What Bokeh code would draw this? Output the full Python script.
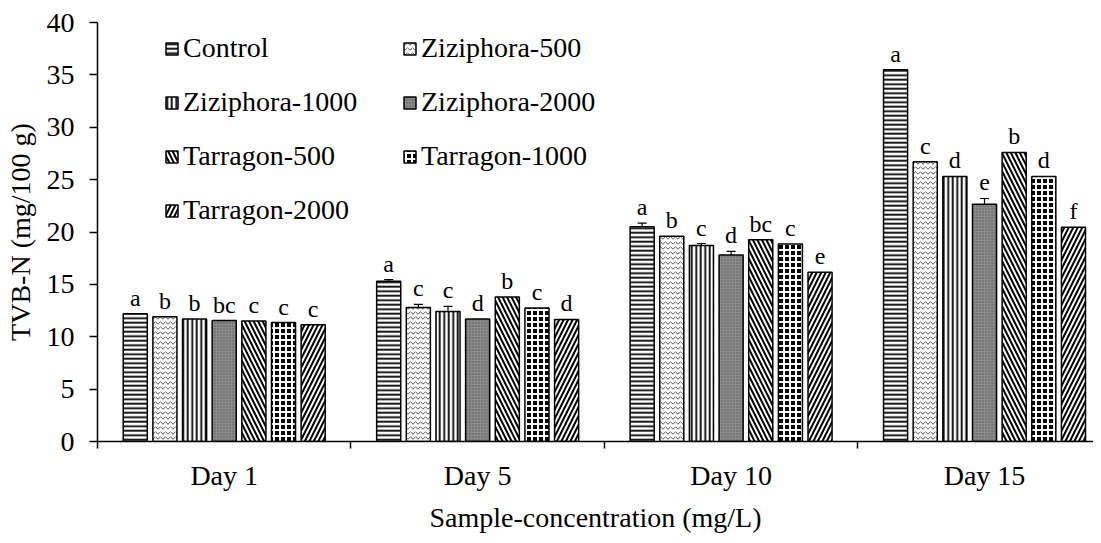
from bokeh.plotting import figure
from bokeh.models import (ColumnDataSource, Range1d, FixedTicker, Whisker, LabelSet,
                          Legend, LegendItem, TeeHead)
from bokeh.core.properties import value
from bokeh.embed import file_html
from bokeh.resources import INLINE

days = ["Day 1", "Day 5", "Day 10", "Day 15"]
series = ["Control", "Ziziphora-500", "Ziziphora-1000", "Ziziphora-2000",
          "Tarragon-500", "Tarragon-1000", "Tarragon-2000"]

control = [12.2, 15.3, 20.5, 35.5]
ziz500 = [11.9, 12.8, 19.6, 26.7]
ziz1000 = [11.7, 12.4, 18.7, 25.3]
ziz2000 = [11.55, 11.7, 17.8, 22.65]
tar500 = [11.5, 13.8, 19.25, 27.6]
tar1000 = [11.35, 12.75, 18.85, 25.3]
tar2000 = [11.15, 11.65, 16.15, 20.45]

control_err = [0.0, 0.15, 0.35, 0.0]
ziz500_err = [0.0, 0.3, 0.0, 0.0]
ziz1000_err = [0.0, 0.5, 0.2, 0.0]
ziz2000_err = [0.0, 0.0, 0.35, 0.55]
tar500_err = [0.0, 0.0, 0.0, 0.0]
tar1000_err = [0.0, 0.0, 0.0, 0.0]
tar2000_err = [0.0, 0.0, 0.0, 0.0]

control_let = ["a", "a", "a", "a"]
ziz500_let = ["b", "c", "b", "c"]
ziz1000_let = ["b", "c", "c", "d"]
ziz2000_let = ["bc", "d", "d", "e"]
tar500_let = ["c", "b", "bc", "b"]
tar1000_let = ["c", "c", "c", "d"]
tar2000_let = ["c", "d", "e", "f"]

y_ticks = [0, 5, 10, 15, 20, 25, 30, 35, 40]

values = [control, ziz500, ziz1000, ziz2000, tar500, tar1000, tar2000]
errors = [control_err, ziz500_err, ziz1000_err, ziz2000_err, tar500_err, tar1000_err, tar2000_err]
letters = [control_let, ziz500_let, ziz1000_let, ziz2000_let, tar500_let, tar1000_let, tar2000_let]

FONT = "Liberation Serif"

styles = [
    dict(fill_color="white", hatch_pattern="-", hatch_scale=4.5, hatch_weight=1.8, hatch_color="black"),
    dict(fill_color="white", hatch_pattern="v", hatch_scale=5, hatch_weight=1.0, hatch_color="#555555"),
    dict(fill_color="white", hatch_pattern="|", hatch_scale=4.5, hatch_weight=1.8, hatch_color="black"),
    dict(fill_color="#8a8a8a", hatch_pattern=".", hatch_scale=3, hatch_weight=1.0, hatch_color="#5a5a5a"),
    dict(fill_color="white", hatch_pattern="\\", hatch_scale=9, hatch_weight=2.0, hatch_color="black"),
    dict(fill_color="black", hatch_pattern="+", hatch_scale=6, hatch_weight=2.0, hatch_color="white"),
    dict(fill_color="white", hatch_pattern="/", hatch_scale=9, hatch_weight=2.0, hatch_color="black"),
]

n_series = len(series)
step = 0.117
bar_w = 0.095

p = figure(width=1093, height=535, output_backend="svg", toolbar_location=None,
           x_range=Range1d(0, 3.93), y_range=Range1d(0, 40),
           min_border_left=97, min_border_right=0, min_border_top=22, min_border_bottom=93)
p.outline_line_color = None
p.xgrid.visible = False
p.ygrid.visible = False
p.background_fill_color = "white"

renderers = []
all_x, all_top, all_let, all_up, all_lo, all_has = [], [], [], [], [], []
for j, name in enumerate(series):
    xs = [i + 0.5 + (j - (n_series - 1) / 2) * step for i in range(len(days))]
    src = ColumnDataSource(dict(x=xs, top=values[j]))
    r = p.vbar(x="x", top="top", width=bar_w, source=src, line_color="black", line_width=1.5,
               **styles[j])
    renderers.append(r)
    for i in range(len(days)):
        e = errors[j][i]
        all_x.append(xs[i])
        all_top.append(values[j][i] + e)
        all_let.append(letters[j][i])
        if e > 0:
            all_up.append(values[j][i] + e)
            all_lo.append(values[j][i] - e)
            all_has.append(xs[i])

wsrc = ColumnDataSource(dict(x=all_has, upper=all_up, lower=all_lo))
w = Whisker(source=wsrc, base="x", upper="upper", lower="lower", line_color="black", line_width=1.2,
            upper_head=TeeHead(size=9, line_color="black", line_width=1.2),
            lower_head=TeeHead(size=9, line_color="black", line_width=1.2))
p.add_layout(w)

lsrc = ColumnDataSource(dict(x=all_x, y=all_top, t=all_let))
labels = LabelSet(x="x", y="y", text="t", source=lsrc, text_align="center",
                  text_baseline="alphabetic", y_offset=8, text_font=value(FONT),
                  text_font_size="24px", text_color="black")
p.add_layout(labels)

# axes
p.xaxis.ticker = FixedTicker(ticks=[i + 0.5 for i in range(len(days))],
                             minor_ticks=list(range(len(days))))
p.xaxis.major_label_overrides = {i + 0.5: d for i, d in enumerate(days)}
p.xaxis.major_tick_line_color = None
p.xaxis.major_tick_out = 0
p.xaxis.minor_tick_out = 7
p.xaxis.minor_tick_in = 0
p.xaxis.minor_tick_line_color = "black"
p.xaxis.minor_tick_line_width = 1.5
p.xaxis.major_label_standoff = 11
p.xaxis.axis_label = "Sample-concentration (mg/L)"
p.xaxis.axis_label_standoff = 8

p.yaxis.ticker = FixedTicker(ticks=y_ticks)
p.yaxis.major_tick_out = 8
p.yaxis.major_tick_in = 0
p.yaxis.minor_tick_line_color = None
p.yaxis.major_tick_line_color = "black"
p.yaxis.major_tick_line_width = 1.5
p.yaxis.major_label_standoff = 15
p.yaxis.axis_label = "TVB-N (mg/100 g)"
p.yaxis.axis_label_standoff = 8

for ax in (p.xaxis, p.yaxis):
    ax.axis_line_color = "black"
    ax.axis_line_width = 1.5
    ax.major_label_text_font = FONT
    ax.major_label_text_font_size = "28px"
    ax.major_label_text_color = "black"
    ax.axis_label_text_font = FONT
    ax.axis_label_text_font_size = "28px"
    ax.axis_label_text_font_style = "normal"
    ax.axis_label_text_color = "black"

# legend laid out column by column: reorder so rows read left-to-right like the reference
order = [0, 2, 4, 6, 1, 3, 5]
legend = Legend(items=[LegendItem(label=series[k], renderers=[renderers[k]]) for k in order],
                ncols=2, location=(67, 204), glyph_width=15, glyph_height=15,
                label_height=54, spacing=0, label_width=219, label_standoff=4,
                padding=0, margin=0, border_line_color=None, background_fill_alpha=0,
                label_text_font=FONT, label_text_font_size="28px", label_text_color="black")
p.add_layout(legend)

open("out.html", "w").write(file_html(p, INLINE))
